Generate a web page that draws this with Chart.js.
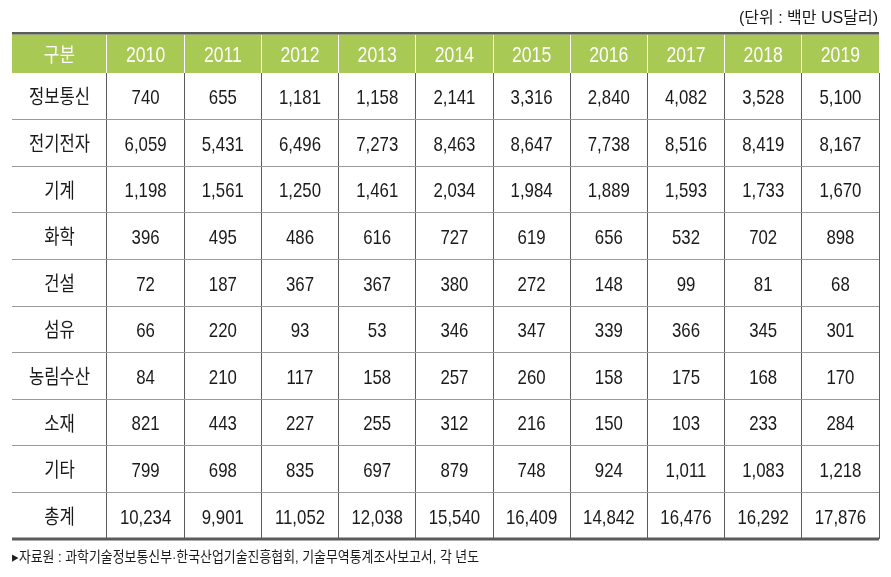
<!DOCTYPE html>
<html>
<head>
<meta charset="utf-8">
<script src="https://cdn.jsdelivr.net/npm/chart.js@4.4.1/dist/chart.umd.min.js"></script>
<style>
  html, body { margin: 0; padding: 0; background: #fff; }
  #wrap { width: 891px; height: 577px; }
</style>
</head>
<body>
<div id="wrap"><canvas id="tbl" width="891" height="577"></canvas></div>
<script>
// columns and rows of the table
const years = ['2010', '2011', '2012', '2013', '2014', '2015', '2016', '2017', '2018', '2019'];
const rowLabels = ['정보통신', '전기전자', '기계', '화학', '건설', '섬유', '농림수산', '소재', '기타', '총계'];

// values, 백만 US달러
const ictValues = [740, 655, 1181, 1158, 2141, 3316, 2840, 4082, 3528, 5100];
const electronicsValues = [6059, 5431, 6496, 7273, 8463, 8647, 7738, 8516, 8419, 8167];
const machineryValues = [1198, 1561, 1250, 1461, 2034, 1984, 1889, 1593, 1733, 1670];
const chemicalValues = [396, 495, 486, 616, 727, 619, 656, 532, 702, 898];
const constructionValues = [72, 187, 367, 367, 380, 272, 148, 99, 81, 68];
const textileValues = [66, 220, 93, 53, 346, 347, 339, 366, 345, 301];
const agricultureValues = [84, 210, 117, 158, 257, 260, 158, 175, 168, 170];
const materialsValues = [821, 443, 227, 255, 312, 216, 150, 103, 233, 284];
const otherValues = [799, 698, 835, 697, 879, 748, 924, 1011, 1083, 1218];
const totalValues = [10234, 9901, 11052, 12038, 15540, 16409, 14842, 16476, 16292, 17876];

const headerLabel = '구분';
const unitNote = '(단위 : 백만 US달러)';
const sourceNote = '▸자료원 : 과학기술정보통신부·한국산업기술진흥협회, 기술무역통계조사보고서, 각 년도';

const rowSeries = [
  ictValues, electronicsValues, machineryValues, chemicalValues, constructionValues,
  textileValues, agricultureValues, materialsValues, otherValues, totalValues,
];

// one point per cell, placed by the category scales
const cells = [];
rowLabels.forEach((label, r) => {
  rowSeries[r].forEach((v, i) => {
    cells.push({ x: years[i], y: label, v: v });
  });
});

const GREEN = '#a9c955';
const DARK = '#5b5b5b';
const NUM_FONT = '"Liberation Sans", Arial, sans-serif';
const KR_FONT = '"Noto Sans CJK KR", "Liberation Sans", sans-serif';

// draw text squeezed horizontally (the source uses a condensed face)
function drawText(ctx, text, x, y, font, color, align, sx) {
  ctx.save();
  ctx.font = font;
  ctx.fillStyle = color;
  ctx.textAlign = 'left';
  ctx.textBaseline = 'alphabetic';
  const w = ctx.measureText(text).width * sx;
  let x0 = x;
  if (align === 'center') x0 = x - w / 2;
  else if (align === 'right') x0 = x - w;
  ctx.translate(x0, y);
  ctx.scale(sx, 1);
  ctx.fillText(text, 0, 0);
  ctx.restore();
}

const tableSkin = {
  id: 'tableSkin',
  beforeDraw: (chart) => {
    const { ctx, chartArea, scales } = chart;
    const left = scales.y.left;
    ctx.save();
    ctx.fillStyle = GREEN;
    ctx.fillRect(left, scales.x.top + 1.5, chartArea.right - left, chartArea.top - scales.x.top - 1.5);
    ctx.restore();
  },
  afterDraw: (chart) => {
    const { ctx, chartArea, scales } = chart;
    const xs = scales.x;
    const ys = scales.y;
    const left = ys.left;
    const right = chartArea.right;

    // thick rules at top and bottom
    ctx.save();
    ctx.fillStyle = DARK;
    ctx.fillRect(left, xs.top - 1, right - left, 2.5);
    ctx.fillRect(left, chartArea.bottom - 1.5, right - left, 3);
    ctx.restore();

    // header row
    const headBase = (xs.top + chartArea.top) / 2 + 9;
    drawText(ctx, headerLabel, (left + ys.right) / 2, headBase - 0.5, '20px ' + KR_FONT, '#ffffff', 'center', 0.85);
    years.forEach((yr) => {
      drawText(ctx, yr, xs.getPixelForValue(xs.getLabels().indexOf(yr)), headBase, '22px ' + NUM_FONT, '#ffffff', 'center', 0.8);
    });

    // row labels
    rowLabels.forEach((label, r) => {
      const cy = ys.getPixelForValue(r);
      drawText(ctx, label, (left + ys.right) / 2, cy + 8, '20px ' + KR_FONT, '#1a1a1a', 'center', 0.83);
    });

    // cell values, at the scatter points
    const meta = chart.getDatasetMeta(0);
    meta.data.forEach((el, i) => {
      const v = chart.data.datasets[0].data[i].v;
      drawText(ctx, v.toLocaleString('en-US'), el.x, el.y + 7.8, '21px ' + NUM_FONT, '#1a1a1a', 'center', 0.8);
    });

    // unit and source notes
    drawText(ctx, unitNote, right - 1, 23, '16px ' + NUM_FONT + ', ' + KR_FONT, '#1a1a1a', 'right', 1.0);
    drawText(ctx, sourceNote, left, 562, '15px ' + NUM_FONT + ', ' + KR_FONT, '#1a1a1a', 'left', 0.86);
  },
};

new Chart(document.getElementById('tbl'), {
  type: 'scatter',
  data: {
    datasets: [{
      data: cells,
      pointRadius: 0,
      pointHoverRadius: 0,
    }],
  },
  options: {
    responsive: false,
    animation: false,
    devicePixelRatio: 1,
    events: [],
    layout: { padding: { left: 12, right: 12, top: 33, bottom: 38 } },
    plugins: {
      legend: { display: false },
      tooltip: { enabled: false },
    },
    scales: {
      x: {
        type: 'category',
        labels: years,
        position: 'top',
        offset: true,
        border: { display: false },
        ticks: { display: false },
        grid: {
          offset: true,
          lineWidth: 1,
          color: (c) => (c.index === years.length ? 'rgba(0,0,0,0)' : '#5a5a5a'),
          drawTicks: true,
          tickLength: 38,
          tickWidth: 1,
          tickColor: (c) => (c.index === years.length ? 'rgba(0,0,0,0)' : '#ffffff'),
        },
        afterFit: (s) => { s.height = 40; },
      },
      y: {
        type: 'category',
        labels: rowLabels,
        position: 'left',
        offset: true,
        border: { display: false },
        ticks: { display: false },
        grid: {
          offset: true,
          lineWidth: 1,
          color: (c) => (c.index === 0 || c.index === rowLabels.length ? 'rgba(0,0,0,0)' : '#9a9a9a'),
          drawTicks: true,
          tickLength: 95,
          tickWidth: 1,
          tickColor: (c) => (c.index === 0 || c.index === rowLabels.length ? 'rgba(0,0,0,0)' : '#9a9a9a'),
        },
        afterFit: (s) => { s.width = 95; },
      },
    },
  },
  plugins: [tableSkin],
});
</script>
</body>
</html>
